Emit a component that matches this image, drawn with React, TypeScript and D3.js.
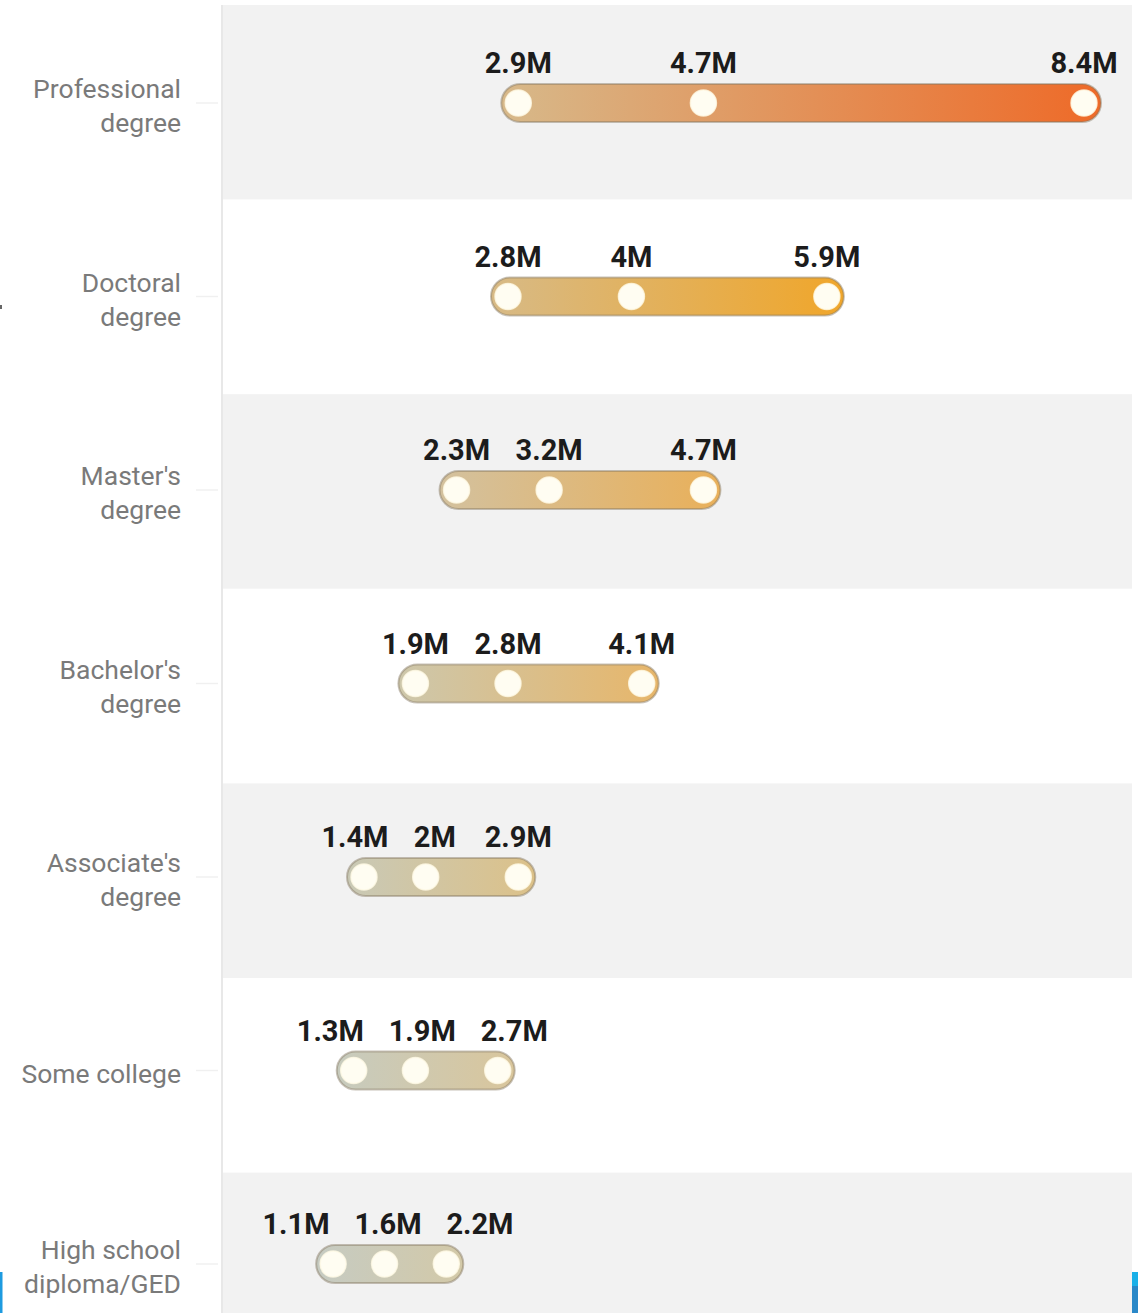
import React from "react";
import * as d3 from "d3";

const categories = [
  "Professional degree",
  "Doctoral degree",
  "Master's degree",
  "Bachelor's degree",
  "Associate's degree",
  "Some college",
  "High school diploma/GED",
];
const categoryLines = [
  ["Professional", "degree"],
  ["Doctoral", "degree"],
  ["Master's", "degree"],
  ["Bachelor's", "degree"],
  ["Associate's", "degree"],
  ["Some college"],
  ["High school", "diploma/GED"],
];
const lowValues = [2.9, 2.8, 2.3, 1.9, 1.4, 1.3, 1.1];
const midValues = [4.7, 4.0, 3.2, 2.8, 2.0, 1.9, 1.6];
const highValues = [8.4, 5.9, 4.7, 4.1, 2.9, 2.7, 2.2];

const barColors: [string, string][] = [
  ["#d7b98a", "#ee6a28"],
  ["#d7ba86", "#f0a62a"],
  ["#d3c19e", "#e9b05a"],
  ["#cdc7ab", "#e7b66a"],
  ["#c9c9b6", "#dcc189"],
  ["#c7cbbe", "#d9c69c"],
  ["#c6cbc2", "#d3c9a8"],
];

const fmt = (v: number) => `${d3.format("~g")(v)}M`;

const LABEL_FS = 29;
function textWidth(s: string) {
  let w = 0;
  for (const ch of s) {
    if (ch === ".") w += 0.27;
    else if (ch === "M") w += 0.875;
    else w += 0.565;
  }
  return w * LABEL_FS;
}

function spreadLabels(xs: number[], widths: number[], gap: number) {
  const pos = xs.slice();
  for (let it = 0; it < 200; it++) {
    let moved = false;
    for (let k = 0; k < pos.length - 1; k++) {
      const minD = (widths[k] + widths[k + 1]) / 2 + gap;
      const d = pos[k + 1] - pos[k];
      if (d < minD - 0.01) {
        const push = (minD - d) / 2;
        pos[k] -= push;
        pos[k + 1] += push;
        moved = true;
      }
    }
    if (!moved) break;
  }
  return pos;
}

export default function App() {
  const W = 1138;
  const H = 1313;
  const plotLeft = 222;
  const plotRight = 1132;
  const x = d3.scaleLinear().domain([0, 8.4]).range([220, 1084]);
  const band = d3
    .scaleBand<string>()
    .domain(categories)
    .range([5, 5 + 7 * 194.6])
    .padding(0);
  const yc = d3.scalePoint<string>().domain(categories).range([103, 1264]);
  const barH = 38;
  const pad = 17;
  const r = 13;

  return (
    <div style={{ position: "absolute", left: 0, top: 0 }}>
      <svg width={W} height={H} style={{ display: "block" }}>
        <defs>
          {categories.map((c, i) => (
            <linearGradient
              key={c}
              id={`g${i}`}
              gradientUnits="userSpaceOnUse"
              x1={x(lowValues[i]) - pad}
              x2={x(highValues[i]) + pad}
              y1={0}
              y2={0}
            >
              <stop offset="0" stopColor={barColors[i][0]} />
              <stop offset="1" stopColor={barColors[i][1]} />
            </linearGradient>
          ))}
        </defs>
        <rect x={0} y={0} width={W} height={H} fill="#ffffff" />
        {categories.map((c, i) => (
          <rect
            key={c}
            x={plotLeft}
            y={band(c)!}
            width={plotRight - plotLeft}
            height={band.bandwidth()}
            fill={i % 2 === 0 ? "#f2f2f2" : "#ffffff"}
          />
        ))}
        <line x1={plotLeft} x2={plotLeft} y1={5} y2={H} stroke="#e8e8e8" strokeWidth={2} />
        {categories.map((c, i) => {
          const cy = yc(c)!;
          const lines = categoryLines[i];
          const lh = 34;
          const startY = cy + 3 - ((lines.length - 1) * lh) / 2;
          return (
            <g key={c}>
              <line x1={196} x2={218} y1={cy} y2={cy} stroke="#f0f0f0" strokeWidth={1.5} />
              <text
                textAnchor="end"
                fontFamily="Roboto, 'Noto Sans', sans-serif"
                fontSize={26.5}
                fill="#7a7a7a"
              >
                {lines.map((l, k) => (
                  <tspan key={k} x={181} y={startY + k * lh} dy="0.35em">
                    {l}
                  </tspan>
                ))}
              </text>
            </g>
          );
        })}
        {categories.map((c, i) => {
          const cy = yc(c)!;
          const x0 = x(lowValues[i]) - pad;
          const x1 = x(highValues[i]) + pad;
          const vals = [lowValues[i], midValues[i], highValues[i]];
          const labels = vals.map(fmt);
          const lx = spreadLabels(
            vals.map((v) => x(v)),
            labels.map(textWidth),
            26
          );
          return (
            <g key={c}>
              <rect
                x={x0}
                y={cy - barH / 2}
                width={x1 - x0}
                height={barH}
                rx={barH / 2}
                fill={`url(#g${i})`}
                stroke="rgba(130,118,96,0.45)"
                strokeWidth={2}
              />
              {vals.map((v, k) => (
                <circle
                  key={k}
                  cx={x(v)}
                  cy={cy}
                  r={r}
                  fill="#fffdf2"
                  stroke="rgba(255,250,230,0.8)"
                  strokeWidth={1.5}
                />
              ))}
              {labels.map((t, k) => (
                <text
                  key={`t${k}`}
                  x={lx[k]}
                  y={cy - 30}
                  textAnchor="middle"
                  fontFamily="Roboto, 'Noto Sans', sans-serif"
                  fontWeight={700}
                  fontSize={LABEL_FS}
                  fill="#1c1c1c"
                >
                  {t}
                </text>
              ))}
            </g>
          );
        })}
        <rect x={0} y={1272} width={2.5} height={41} fill="#1e9be0" />
        <rect x={1132} y={1272} width={6} height={14} fill="#1ab0e8" />
        <rect x={1132} y={1286} width={6} height={27} fill="#2a88c8" />
        <rect x={0} y={305} width={2} height={4} fill="#666" />
      </svg>
    </div>
  );
}
